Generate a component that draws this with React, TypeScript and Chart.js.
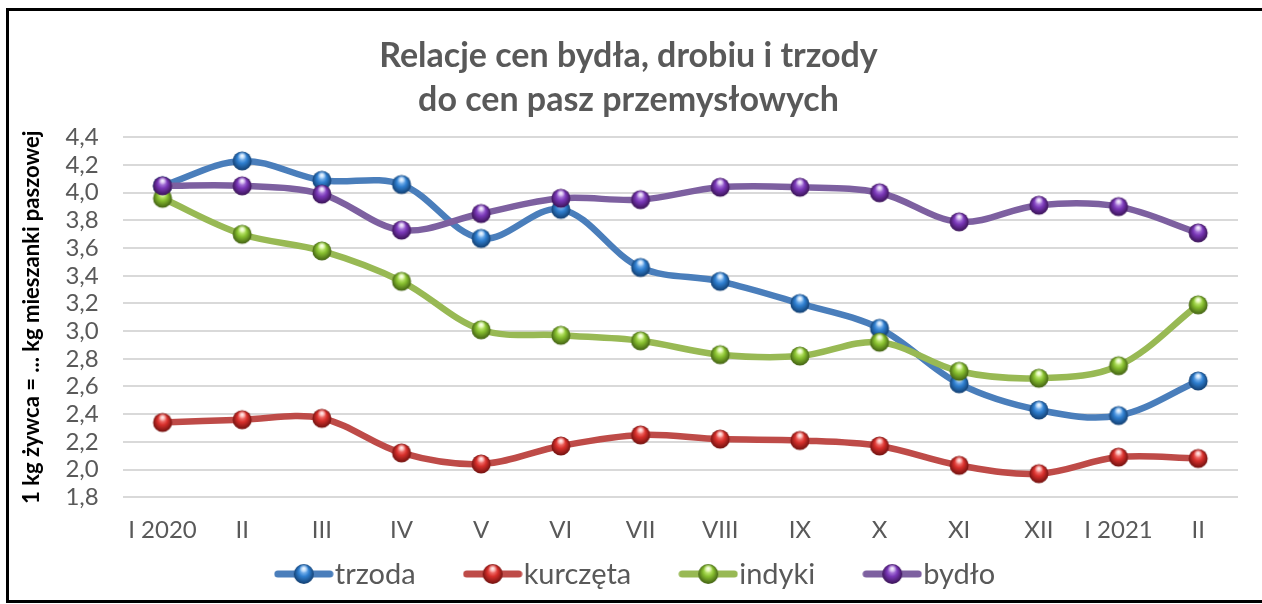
import React, { useEffect, useRef } from "react";
import { Chart, registerables } from "chart.js";

Chart.register(...registerables);

const categories = ["I 2020", "II", "III", "IV", "V", "VI", "VII", "VIII", "IX", "X", "XI", "XII", "I 2021", "II"];
const trzoda = [4.05, 4.23, 4.09, 4.06, 3.67, 3.88, 3.46, 3.36, 3.2, 3.02, 2.62, 2.43, 2.39, 2.64];
const kurczeta = [2.34, 2.36, 2.37, 2.12, 2.04, 2.17, 2.25, 2.22, 2.21, 2.17, 2.03, 1.97, 2.09, 2.08];
const indyki = [3.96, 3.7, 3.58, 3.36, 3.01, 2.97, 2.93, 2.83, 2.82, 2.92, 2.71, 2.66, 2.75, 3.19];
const bydlo = [4.05, 4.05, 3.99, 3.73, 3.85, 3.96, 3.95, 4.04, 4.04, 4.0, 3.79, 3.91, 3.9, 3.71];

const titleLines = ["Relacje cen bydła, drobiu i trzody", "do cen pasz przemysłowych"];
const yAxisTitle = "1 kg żywca = ... kg mieszanki paszowej";
const seriesNames = ["trzoda", "kurczęta", "indyki", "bydło"];
const seriesData = [trzoda, kurczeta, indyki, bydlo];
const lineColors = ["#4a7ebb", "#be4b48", "#98b954", "#7d60a0"];
const lightColors = ["#a9d4ff", "#ff9c98", "#e0ff9a", "#c9a6f0"];
const baseColors = ["#2f7fd0", "#d8302c", "#88c030", "#7a38b8"];
const darkColors = ["#103a6a", "#6a0f0d", "#3d5a10", "#35104f"];

function drawSphere(ctx: CanvasRenderingContext2D, cx: number, cy: number, r: number, i: number) {
  const g = ctx.createRadialGradient(cx, cy - r * 0.5, r * 0.1, cx, cy, r * 1.05);
  g.addColorStop(0, lightColors[i]);
  g.addColorStop(0.45, baseColors[i]);
  g.addColorStop(1, darkColors[i]);
  ctx.beginPath();
  ctx.arc(cx, cy, r, 0, Math.PI * 2);
  ctx.fillStyle = g;
  ctx.fill();
  const h = ctx.createRadialGradient(cx, cy - r * 0.55, 0, cx, cy - r * 0.55, r * 0.45);
  h.addColorStop(0, "rgba(255,255,255,0.85)");
  h.addColorStop(1, "rgba(255,255,255,0)");
  ctx.beginPath();
  ctx.arc(cx, cy, r, 0, Math.PI * 2);
  ctx.fillStyle = h;
  ctx.fill();
}

function makePointImage(i: number) {
  const c = document.createElement("canvas");
  c.width = 22;
  c.height = 22;
  const ctx = c.getContext("2d")!;
  drawSphere(ctx, 11, 11, 9.5, i);
  return c;
}

function makeLegendImage(i: number) {
  const c = document.createElement("canvas");
  c.width = 60;
  c.height = 24;
  const ctx = c.getContext("2d")!;
  ctx.strokeStyle = lineColors[i];
  ctx.lineWidth = 7;
  ctx.lineCap = "round";
  ctx.beginPath();
  ctx.moveTo(4, 12);
  ctx.lineTo(56, 12);
  ctx.stroke();
  drawSphere(ctx, 30, 12, 10, i);
  return c;
}

export default function App() {
  const ref = useRef<HTMLCanvasElement | null>(null);
  useEffect(() => {
    if (!ref.current) return;
    const pointImgs = seriesNames.map((_, i) => makePointImage(i));
    const legendImgs = seriesNames.map((_, i) => makeLegendImage(i));

    const legendPlugin = {
      id: "customLegend",
      afterDraw(chart: any) {
        const ctx = chart.ctx as CanvasRenderingContext2D;
        ctx.save();
        ctx.font = "29px Lato";
        const markerW = 58;
        const textGap = 2;
        const itemGap = 48;
        const widths = seriesNames.map((n) => ctx.measureText(n).width);
        const total = widths.reduce((a, w) => a + markerW + textGap + w, 0) + itemGap * (seriesNames.length - 1);
        let x = chart.width / 2 + 4 - total / 2;
        const y = 574;
        ctx.fillStyle = "#595959";
        ctx.textBaseline = "middle";
        ctx.textAlign = "left";
        seriesNames.forEach((n, i) => {
          const img = legendImgs[i];
          ctx.drawImage(img, x + markerW / 2 - img.width / 2, y - img.height / 2);
          x += markerW + textGap;
          ctx.fillText(n, x, y + 1);
          x += widths[i] + itemGap;
        });
        ctx.restore();
      },
    };

    const chart = new Chart(ref.current, {
      type: "line",
      data: {
        labels: categories,
        datasets: seriesNames.map((name, i) => ({
          label: name,
          data: seriesData[i],
          borderColor: lineColors[i],
          backgroundColor: lineColors[i],
          borderWidth: 6.5,
          tension: 0.35,
          pointStyle: pointImgs[i],
          pointRadius: 10,
          order: 4 - i,
        })),
      },
      options: {
        responsive: false,
        animation: false,
        layout: { padding: { left: 19, right: 24, top: 0, bottom: 40 } },
        plugins: {
          tooltip: { enabled: false },
          legend: { display: false },
          title: {
            display: true,
            text: titleLines,
            color: "#595959",
            font: { family: "Lato", size: 34, weight: "bold", lineHeight: 1.3 },
            padding: { top: 34, bottom: 15 },
          },
        },
        scales: {
          x: {
            offset: true,
            grid: { display: false, drawTicks: false },
            border: { display: false },
            ticks: { color: "#595959", font: { family: "Lato", size: 24 }, padding: 19, maxRotation: 0, autoSkip: false },
          },
          y: {
            min: 1.8,
            max: 4.4,
            grid: { color: "#d9d9d9", lineWidth: 2, drawTicks: false },
            border: { display: false },
            ticks: {
              stepSize: 0.2,
              autoSkip: false,
              color: "#595959",
              font: { family: "Lato", size: 24 },
              padding: 24,
              callback: (v: any) => Number(v).toFixed(1).replace(".", ","),
            },
            title: {
              display: true,
              text: yAxisTitle,
              color: "#000000",
              font: { family: "Lato", size: 22, weight: "bold" },
              padding: { top: 0, bottom: -4 },
            },
          },
        },
      },
      plugins: [legendPlugin],
    });
    return () => chart.destroy();
  }, []);
  return (
    <div style={{ position: "fixed", left: 0, top: 0, width: 1262, height: 604, overflow: "hidden", background: "#fff" }}>
      <canvas ref={ref} width={1262} height={604} style={{ position: "absolute", left: 0, top: 0 }} />
      <div
        style={{
          position: "absolute",
          left: 6,
          top: 8,
          width: 1400,
          height: 595,
          boxSizing: "border-box",
          border: "3px solid #000",
          pointerEvents: "none",
        }}
      />
    </div>
  );
}
